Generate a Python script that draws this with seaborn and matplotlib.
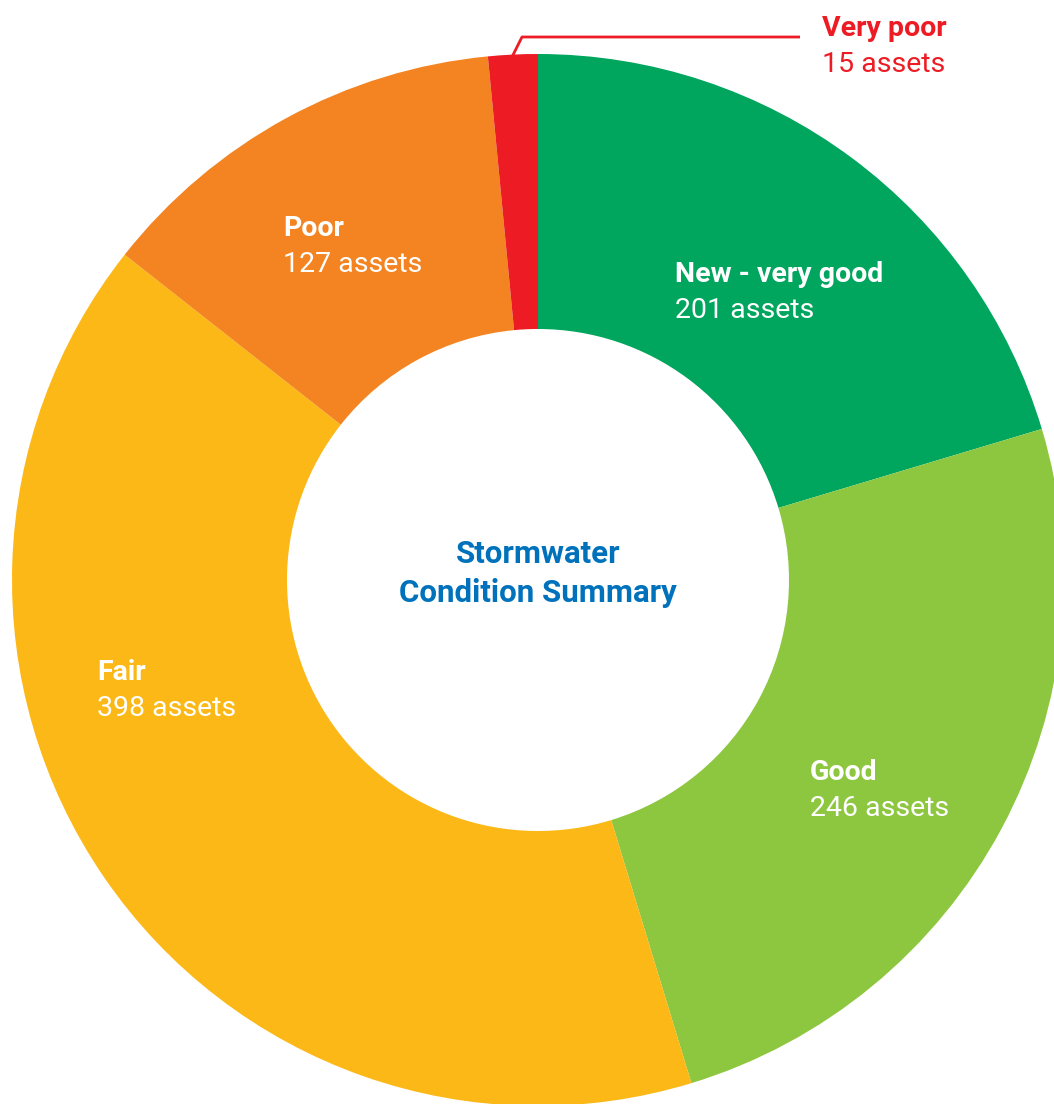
import matplotlib
matplotlib.use("Agg")
import matplotlib.pyplot as plt
import seaborn as sns

# Data
categories = ["New - very good", "Good", "Fair", "Poor", "Very poor"]
asset_counts = [201, 246, 398, 127, 15]
colors = ["#00A65D", "#8DC63F", "#FBB817", "#F38421", "#ED1C24"]

# Parameters (pixel space, origin top-left)
W, H = 1054, 1104
center_px = (538, 580)
outer_r = 526
inner_r = 251
my_fontsize = 20.5
title_fontsize = 22.5
line_gap = 36

sns.set_theme(style="white")
plt.rcParams['font.family'] = ['Roboto', 'DejaVu Sans']


def py(y):
    return H - y


fig = plt.figure(figsize=(W / 100, H / 100), dpi=100)
ax = fig.add_axes([0, 0, 1, 1])
ax.pie(asset_counts, colors=colors, startangle=90, counterclock=False,
       radius=outer_r, center=(center_px[0], py(center_px[1])),
       wedgeprops=dict(width=outer_r - inner_r, linewidth=0))
ax.set_xlim(0, W)
ax.set_ylim(0, H)
ax.set_aspect("equal")
ax.axis("off")

# Slice labels
label_pos = {
    "New - very good": (675, 275),
    "Good": (810, 772),
    "Fair": (97, 673),
    "Poor": (283, 229),
}
for cat, n in zip(categories, asset_counts):
    if cat not in label_pos:
        continue
    x, y = label_pos[cat]
    ax.text(x, py(y), cat, color="white", fontsize=my_fontsize,
            fontweight="bold", va="center", ha="left")
    ax.text(x, py(y + line_gap), f"{n} assets", color="white",
            fontsize=my_fontsize, va="center", ha="left")

# Very poor callout
ax.plot([512, 522, 800], [py(57), py(37), py(37)], color=colors[4], lw=2,
        solid_capstyle="butt")
ax.text(822, py(29), categories[4], color=colors[4], fontsize=my_fontsize,
        fontweight="bold", va="center", ha="left")
ax.text(822, py(29 + line_gap), f"{asset_counts[4]} assets", color=colors[4],
        fontsize=my_fontsize, va="center", ha="left")

# Center title
ax.text(538, py(554), "Stormwater", color="#0072BC", fontsize=title_fontsize,
        fontweight="bold", va="center", ha="center")
ax.text(538, py(593), "Condition Summary", color="#0072BC",
        fontsize=title_fontsize, fontweight="bold", va="center", ha="center")

fig.savefig("out.png", dpi=100)
